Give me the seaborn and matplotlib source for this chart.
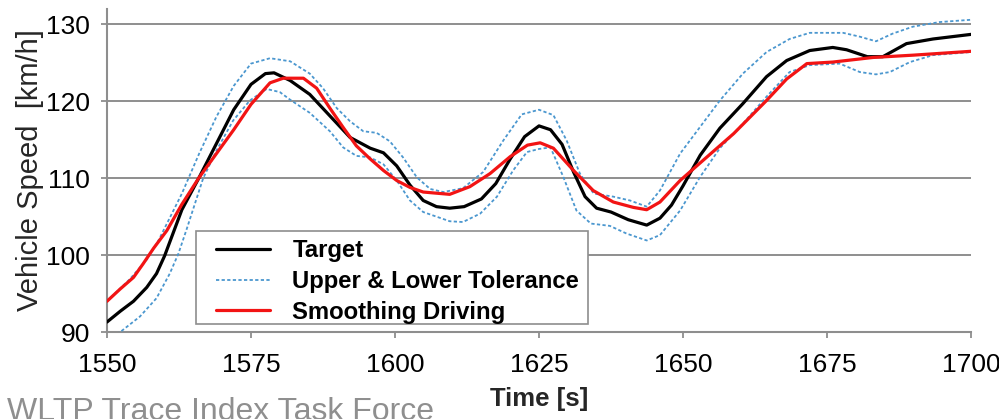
import matplotlib
matplotlib.use("Agg")
import matplotlib.pyplot as plt
from matplotlib.patches import Rectangle
import seaborn as sns
import pandas as pd

# ---------------- data ----------------
t_target = [1550, 1552.3, 1554.6, 1556.9, 1558.6, 1560, 1561.5, 1563, 1566, 1569,
            1572, 1575, 1577.5, 1579, 1581.8, 1585.2, 1588.7, 1592.2, 1595.7, 1598,
            1600.3, 1602.6, 1604.9, 1607.2, 1609.5, 1612, 1615, 1617.5, 1620, 1622.5,
            1625, 1627, 1629, 1631, 1633, 1635, 1637.5, 1640.5, 1643.7, 1646,
            1648, 1650, 1653, 1656.4, 1660.4, 1664.5, 1668, 1672, 1676, 1678.4,
            1682, 1684.7, 1688.8, 1693.4, 1700]
v_target = [91.3, 92.7, 94.0, 95.8, 97.6, 99.9, 102.9, 105.9, 110.1, 114.5,
            118.9, 122.2, 123.6, 123.7, 122.7, 120.9, 118.1, 115.3, 113.9, 113.3,
            111.6, 109.1, 107.1, 106.3, 106.1, 106.3, 107.3, 109.3, 112.5, 115.4,
            116.8, 116.3, 114.4, 110.8, 107.6, 106.1, 105.6, 104.6, 103.9, 104.8,
            106.5, 109.0, 113.0, 116.5, 119.7, 123.2, 125.3, 126.6, 127.0, 126.7,
            125.8, 125.8, 127.5, 128.1, 128.7]

t_smooth = [1550, 1552.3, 1554.6, 1556.3, 1558.1, 1560.4, 1563, 1566, 1569, 1572,
            1575, 1578.3, 1580.6, 1584.1, 1586.4, 1588.7, 1591, 1593.3, 1595.7, 1598,
            1600.3, 1602.6, 1604.9, 1609.5, 1613, 1616.5, 1620, 1623, 1625.2, 1627.5,
            1631, 1634.4, 1637.9, 1641.4, 1643.7, 1646, 1649.5, 1653, 1658.8, 1664.5,
            1668, 1671.5, 1676, 1683, 1690, 1700]
v_smooth = [94.0, 95.6, 97.1, 98.9, 100.9, 103.2, 106.6, 110.1, 113.2, 116.3,
            119.6, 122.4, 123.0, 123.0, 121.7, 119.1, 116.6, 114.2, 112.5, 111.0,
            109.7, 108.8, 108.2, 107.9, 108.9, 110.6, 112.8, 114.3, 114.6, 113.9,
            111.0, 108.4, 106.9, 106.2, 105.9, 106.9, 109.7, 112.0, 115.8, 120.1,
            122.9, 124.9, 125.1, 125.7, 126.0, 126.5]

t_upper = [1550, 1554, 1557, 1559, 1561, 1563, 1566, 1569, 1572, 1575,
           1578.3, 1581.8, 1585.2, 1587.5, 1589.9, 1592.2, 1594.5, 1596.8, 1599.1, 1601.4,
           1603.8, 1606.1, 1608.4, 1611.8, 1615.3, 1618.8, 1622, 1625, 1627.5, 1629.8,
           1632.1, 1634.5, 1637.9, 1640.8, 1643.7, 1646, 1649.5, 1653, 1656.4, 1660.4,
           1664.5, 1668.5, 1672, 1677.8, 1680.7, 1683.5, 1686.4, 1689.9, 1694.5, 1700]
v_upper = [94.0, 96.9, 99.5, 102.0, 105.0, 108.0, 113.2, 118.0, 122.0, 124.9,
           125.6, 125.2, 123.6, 121.7, 119.1, 117.4, 116.1, 115.9, 114.8, 112.7,
           110.1, 108.6, 108.2, 108.7, 110.8, 114.9, 118.3, 118.9, 118.2, 114.9,
           110.6, 108.0, 107.6, 107.1, 106.3, 108.4, 113.2, 116.7, 120.1, 123.6,
           126.4, 128.1, 128.9, 128.9, 128.4, 127.8, 128.8, 129.7, 130.3, 130.6]

t_lower = [1550, 1552.3, 1555.7, 1558.6, 1560.9, 1562.4, 1563.8, 1566.7, 1569, 1571.9,
           1574.8, 1577.7, 1580, 1581.8, 1585.2, 1588.7, 1591, 1593.3, 1595.7, 1598,
           1600.3, 1602.6, 1604.9, 1607.2, 1609.5, 1611.8, 1614.8, 1617.7, 1620.5, 1622.9,
           1625, 1627, 1629.2, 1631.5, 1634, 1637.3, 1640.2, 1643.7, 1646, 1649.5,
           1653, 1656.4, 1660.4, 1664.5, 1668.5, 1672, 1677.2, 1680.7, 1683.5, 1685.9,
           1689.4, 1693.4, 1700]
v_lower = [89.0, 90.0, 92.0, 94.4, 97.6, 100.2, 103.3, 110.0, 113.6, 117.5,
           120.1, 121.6, 121.2, 120.2, 118.5, 116.1, 114.0, 112.9, 112.7, 111.8,
           109.7, 107.1, 105.6, 105.0, 104.4, 104.3, 105.4, 107.6, 111.0, 113.4,
           113.8, 114.0, 110.2, 105.8, 104.1, 103.8, 102.8, 101.9, 102.6, 105.8,
           110.2, 113.9, 117.1, 120.6, 123.8, 124.7, 124.9, 123.8, 123.5, 123.8,
           125.1, 126.0, 126.4]

x_ticks = [1550, 1575, 1600, 1625, 1650, 1675, 1700]
y_ticks = [90, 100, 110, 120, 130]

label_target = "Target"
label_tol = "Upper & Lower Tolerance"
label_smooth = "Smoothing Driving"

# ---------------- style ----------------
sns.set_theme(style="white")
plt.rcParams["font.family"] = ["Liberation Sans", "DejaVu Sans"]

GREY = "#8e8e8e"
BLUE = "#4b97cf"
RED = "#f21414"

fig = plt.figure(figsize=(9.99, 4.19), dpi=100)
ax = fig.add_axes([107 / 999, 1 - 332 / 419, 864 / 999, 323 / 419])

df_t = pd.DataFrame({"t": t_target, "v": v_target})
df_s = pd.DataFrame({"t": t_smooth, "v": v_smooth})
df_u = pd.DataFrame({"t": t_upper, "v": v_upper})
df_l = pd.DataFrame({"t": t_lower, "v": v_lower})

dot = (0, (1.8, 1.3))
common = dict(solid_joinstyle="round", solid_capstyle="round")
sns.lineplot(data=df_u, x="t", y="v", ax=ax, color=BLUE, lw=1.3, linestyle=dot,
             label=label_tol, zorder=3)
sns.lineplot(data=df_l, x="t", y="v", ax=ax, color=BLUE, lw=1.3, linestyle=dot,
             label="_nolegend_", zorder=3)
sns.lineplot(data=df_t, x="t", y="v", ax=ax, color="black", lw=2.3,
             label=label_target, zorder=4, **common)
sns.lineplot(data=df_s, x="t", y="v", ax=ax, color=RED, lw=2.3,
             label=label_smooth, zorder=5, **common)

ax.set_xlim(1550, 1700)
ax.set_ylim(90, 132)
ax.set_xticks(x_ticks)
ax.set_yticks(y_ticks)
ax.set_xticklabels([str(v) for v in x_ticks])
ax.set_yticklabels([str(v) for v in y_ticks])

ax.yaxis.grid(True, color=GREY, lw=1.4)
ax.xaxis.grid(False)
ax.set_axisbelow(True)

for side in ["top", "right"]:
    ax.spines[side].set_visible(False)
for side in ["left", "bottom"]:
    ax.spines[side].set_color(GREY)
    ax.spines[side].set_linewidth(1.5)

ax.tick_params(axis="both", which="major", direction="out", length=4, width=1.3,
               color=GREY, labelsize=19, labelcolor="black")
ax.tick_params(axis="x", pad=11, bottom=True)
ax.tick_params(axis="y", pad=8, left=True)

ax.set_xlabel("Time [s]", fontsize=18.5, fontweight="bold", labelpad=7)
ax.set_ylabel("Vehicle Speed  [km/h]", fontsize=21, labelpad=2)

# legend frame (drawn as a plain rectangle in axes coordinates)
ax.add_patch(Rectangle((89 / 864, 8 / 323), 392 / 864, 93 / 323,
                       transform=ax.transAxes, facecolor="white",
                       edgecolor=GREY, lw=1.2, zorder=6))

handles, labels = ax.get_legend_handles_labels()
order = [label_target, label_tol, label_smooth]
hmap = dict(zip(labels, handles))
leg = ax.legend([hmap[k] for k in order], order, loc="upper left",
                bbox_to_anchor=(109 / 864, 93 / 323), borderaxespad=0,
                prop={"size": 17.2, "weight": "bold"}, handlelength=2.25,
                handletextpad=0.95, labelspacing=0.33, borderpad=0,
                frameon=False)
leg.set_zorder(7)
for txt in leg.get_texts():
    txt.set_color("black")

fig.text(7 / 999, -0.002, "WLTP Trace Index Task Force", fontsize=23,
         color="#8f8f8f", ha="left", va="baseline")

fig.savefig("out.png", dpi=100)
